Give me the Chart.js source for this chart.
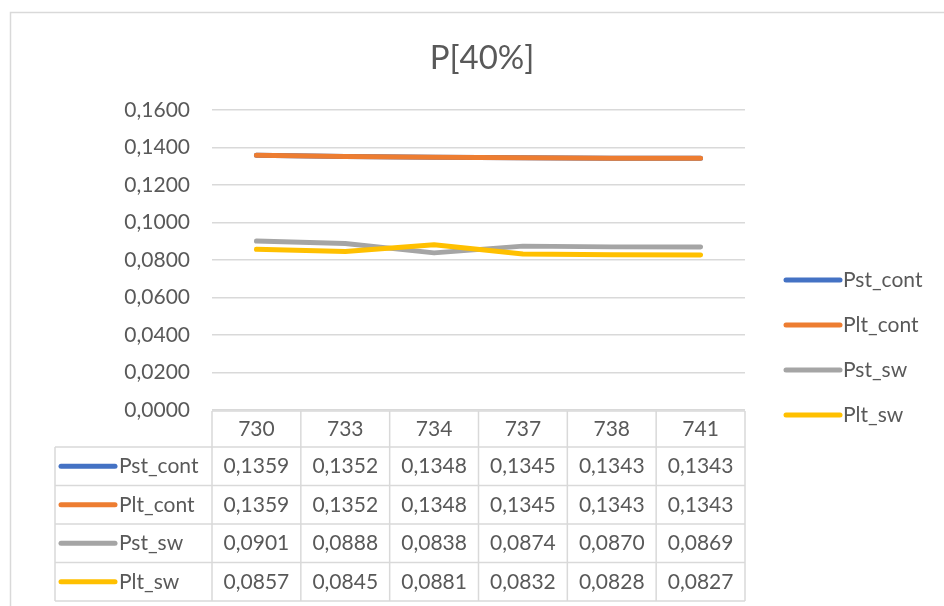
<!DOCTYPE html>
<html>
<head>
<meta charset="utf-8">
<script src="https://cdn.jsdelivr.net/npm/chart.js@4"></script>
<style>
  body { margin: 0; background: #fff; }
  #wrap { width: 944px; height: 606px; }
</style>
</head>
<body>
<div id="wrap"><canvas id="chart" width="944" height="606"></canvas></div>
<script>
// Daten
const categories = ["730", "733", "734", "737", "738", "741"];
const seriesNames = ["Pst_cont", "Plt_cont", "Pst_sw", "Plt_sw"];
const pstCont = [0.1359, 0.1352, 0.1348, 0.1345, 0.1343, 0.1343];
const pltCont = [0.1359, 0.1352, 0.1348, 0.1345, 0.1343, 0.1343];
const pstSw = [0.0901, 0.0888, 0.0838, 0.0874, 0.0870, 0.0869];
const pltSw = [0.0857, 0.0845, 0.0881, 0.0832, 0.0828, 0.0827];
const colors = ["#4472C4", "#ED7D31", "#A5A5A5", "#FFC000"];

const values = [pstCont, pltCont, pstSw, pltSw];
const textColor = "#595959";
const gridColor = "#D9D9D9";
const font = "Lato";

function fmt(v) {
  return v.toFixed(4).replace(".", ",");
}

function legendKey(ctx, x, y, color) {
  ctx.save();
  ctx.strokeStyle = color;
  ctx.lineWidth = 5;
  ctx.lineCap = "round";
  ctx.beginPath();
  ctx.moveTo(x, y);
  ctx.lineTo(x + 54, y);
  ctx.stroke();
  ctx.restore();
}

/* --------- Rahmen, Titel, Legende, Datentabelle --------- */
const extras = {
  id: "extras",
  beforeDraw(chart) {
    const ctx = chart.ctx;
    ctx.save();
    ctx.strokeStyle = gridColor;
    ctx.lineWidth = 1.5;
    ctx.strokeRect(10.5, 12.5, 1000, 700);
    ctx.fillStyle = textColor;
    ctx.font = "33px " + font;
    ctx.textAlign = "center";
    ctx.textBaseline = "middle";
    ctx.fillText("P[40%]", 482, 58);
    ctx.restore();
  },
  afterDraw(chart) {
    const ctx = chart.ctx;
    const xs = chart.scales.x;
    const area = chart.chartArea;
    const colW = (area.right - area.left) / categories.length;
    const top = area.bottom + 1;
    const headH = 36;
    const rowH = 38.5;
    const labelLeft = 55;

    ctx.save();
    ctx.strokeStyle = gridColor;
    ctx.lineWidth = 1.5;

    // Kopfzeile
    ctx.beginPath();
    ctx.moveTo(area.left, top);
    ctx.lineTo(area.right, top);
    for (let r = 0; r <= seriesNames.length; r++) {
      const y = top + headH + r * rowH;
      ctx.moveTo(labelLeft, y);
      ctx.lineTo(area.right, y);
    }
    const bottom = top + headH + seriesNames.length * rowH;
    ctx.moveTo(labelLeft, top + headH);
    ctx.lineTo(labelLeft, bottom);
    for (let i = 0; i <= categories.length; i++) {
      const x = area.left + i * colW;
      ctx.moveTo(x, top);
      ctx.lineTo(x, bottom);
    }
    ctx.stroke();

    ctx.fillStyle = textColor;
    ctx.font = "21px " + font;
    ctx.textBaseline = "middle";
    ctx.textAlign = "center";
    categories.forEach((c, i) => {
      ctx.fillText(c, xs.getPixelForValue(i), top + headH / 2);
    });

    seriesNames.forEach((name, r) => {
      const cy = top + headH + r * rowH + rowH / 2;
      legendKey(ctx, 61, cy, colors[r]);
      ctx.textAlign = "left";
      ctx.fillText(name, 119, cy);
      ctx.textAlign = "center";
      values[r].forEach((v, i) => {
        ctx.fillText(fmt(v), xs.getPixelForValue(i), cy);
      });
    });

    // Legende rechts
    const legY = [280, 325, 370, 415];
    seriesNames.forEach((name, r) => {
      legendKey(ctx, 786, legY[r], colors[r]);
      ctx.textAlign = "left";
      ctx.fillText(name, 843, legY[r]);
    });
    ctx.restore();
  }
};

new Chart(document.getElementById("chart"), {
  type: "line",
  data: {
    labels: categories,
    datasets: seriesNames.map((name, i) => ({
      label: name,
      data: values[i],
      borderColor: colors[i],
      backgroundColor: colors[i],
      borderWidth: 5,
      borderCapStyle: "round",
      borderJoinStyle: "round",
      pointRadius: 0,
      tension: 0,
      order: 3 - i
    }))
  },
  options: {
    responsive: false,
    animation: false,
    devicePixelRatio: 1,
    layout: { padding: { left: 0, top: 110, right: 199, bottom: 196 } },
    plugins: {
      legend: { display: false },
      title: { display: false },
      tooltip: { enabled: false }
    },
    scales: {
      x: {
        offset: true,
        ticks: { display: false },
        grid: { display: false },
        border: { display: false },
        afterFit: s => { s.height = 0; }
      },
      y: {
        min: 0,
        max: 0.16,
        ticks: {
          stepSize: 0.02,
          padding: 22,
          color: textColor,
          font: { family: font, size: 21 },
          callback: v => fmt(v)
        },
        grid: { color: gridColor, lineWidth: 1.5, drawTicks: false },
        border: { display: false },
        afterFit: s => { s.width = 212; }
      }
    }
  },
  plugins: [extras]
});
</script>
</body>
</html>
